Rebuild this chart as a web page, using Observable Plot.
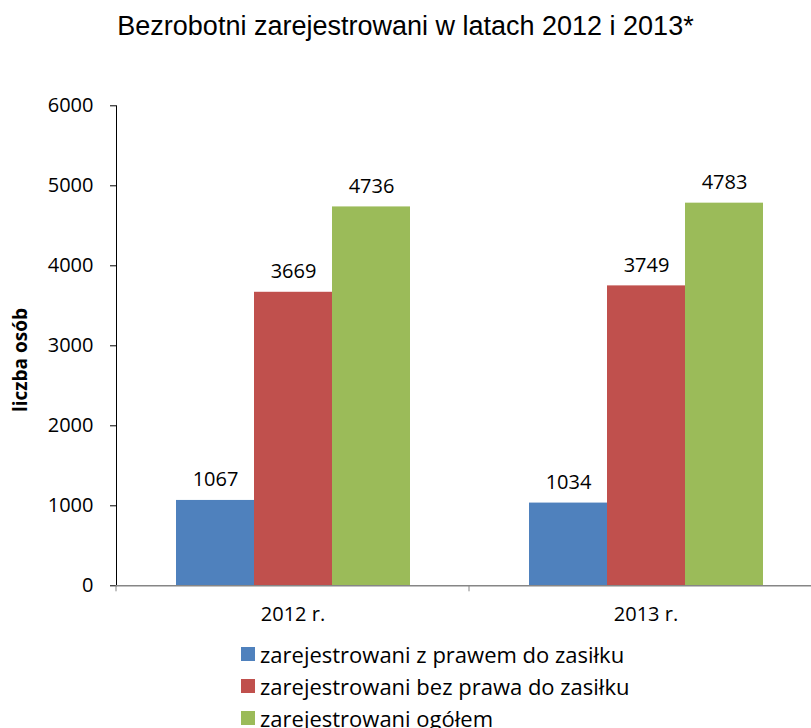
<!DOCTYPE html>
<html><head><meta charset="utf-8">
<script src="https://cdn.jsdelivr.net/npm/d3@7"></script>
<script src="https://cdn.jsdelivr.net/npm/@observablehq/plot@0.6"></script>
<style>
body{margin:0;background:#fff;width:811px;height:728px;overflow:hidden;position:relative;font-family:"Open Sans",sans-serif;}
#title{position:absolute;left:0;top:10px;width:811px;text-align:center;font-family:"Liberation Sans",Arial,sans-serif;font-size:27px;line-height:32px;color:#000;}
#chart{position:absolute;left:0;top:60px;}
#ylabel{position:absolute;left:19.5px;top:360px;transform:translate(-50%,-50%) rotate(-90deg);font-weight:bold;font-size:19px;white-space:nowrap;color:#000;}
#legend{position:absolute;left:241px;top:638px;}
.row{display:flex;align-items:center;height:32px;font-size:22px;color:#000;}
.sw{width:14px;height:14px;margin-right:5px;flex:none;}
[aria-label="y-axis tick"]{stroke:#868686;}
[aria-label="frame"]{stroke:#868686;}
</style></head><body>
<div id="title"></div>
<div id="ylabel"></div>
<div id="chart"></div>
<div id="legend"></div>
<script>
const titleText = "Bezrobotni zarejestrowani w latach 2012 i 2013*";
const yLabel = "liczba osób";
const years = ["2012 r.", "2013 r."];
const series = ["zarejestrowani z prawem do zasiłku", "zarejestrowani bez prawa do zasiłku", "zarejestrowani ogółem"];
const colors = ["#4F81BD", "#C0504D", "#9BBB59"];
const values2012 = [1067, 3669, 4736];
const values2013 = [1034, 3749, 4783];
const yTicks = [0, 1000, 2000, 3000, 4000, 5000, 6000];

const valuesByYear = [values2012, values2013];
const rows = years.flatMap((yr, i) => series.map((s, j) => ({year: yr, series: s, value: valuesByYear[i][j]})));

document.getElementById("title").textContent = titleText;
document.getElementById("ylabel").textContent = yLabel;

const plot = Plot.plot({
  width: 811,
  height: 580,
  marginTop: 45.3,
  marginBottom: 54.7,
  marginLeft: 116,
  marginRight: 0,
  style: {fontFamily: "Open Sans", fontSize: "20px", color: "#000", background: "transparent"},
  fx: {domain: years, range: [116, 822.6], padding: 0, label: null, axis: "bottom", tickSize: 0, tickPadding: 21},
  x: {domain: series, paddingInner: 0, paddingOuter: 0.753, axis: null},
  y: {domain: [0, 6000], ticks: yTicks, tickFormat: d => String(d), tickSize: 6, tickPadding: 17, label: null, line: true},
  color: {domain: series, range: colors},
  marks: [
    Plot.barY(rows, {fx: "year", x: "series", y: "value", fill: "series"}),
    Plot.ruleY([0], {stroke: "#868686", strokeWidth: 1.5}),
    Plot.text(rows, {fx: "year", x: "series", y: "value", text: d => String(d.value), dy: -14, lineAnchor: "bottom", fontSize: 20, fill: "#000"})
  ]
});
document.getElementById("chart").appendChild(plot);

// boundary ticks of the category axis, placed from the fx scale
const fx = plot.scale("fx");
const ys = plot.scale("y");
const y0 = ys.apply(0);
const bounds = years.map(d => fx.apply(d)).concat([fx.apply(years[years.length - 1]) + fx.bandwidth]);
d3.select(plot).append("g").attr("stroke", "#868686")
  .selectAll("line").data(bounds).join("line")
  .attr("x1", d => d).attr("x2", d => d).attr("y1", y0).attr("y2", y0 + 6);

const legend = d3.select("#legend");
series.forEach((s, i) => {
  const r = legend.append("div").attr("class", "row");
  r.append("div").attr("class", "sw").style("background", colors[i]);
  r.append("span").text(s);
});
</script>
</body></html>
